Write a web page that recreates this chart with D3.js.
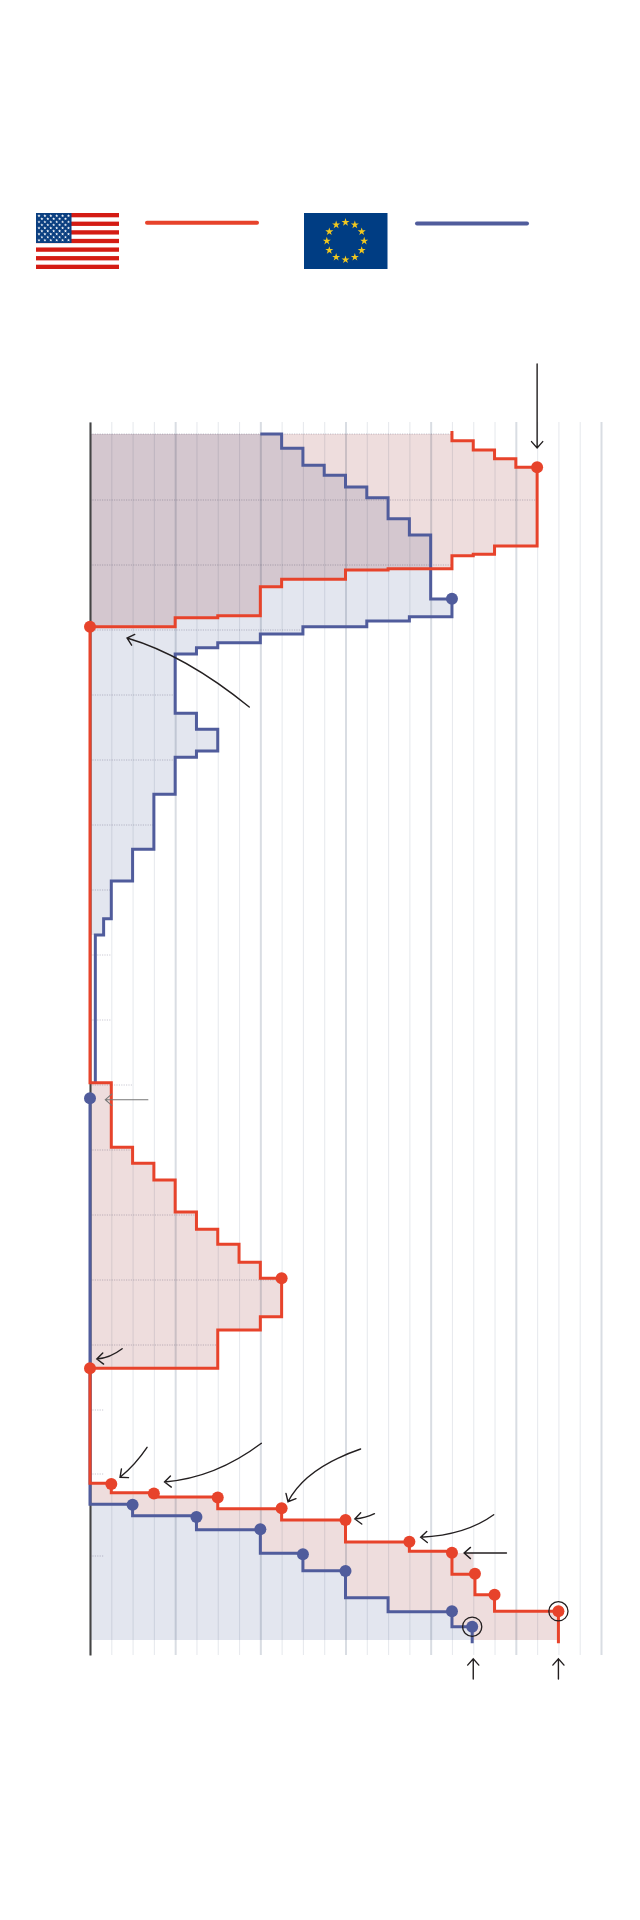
<!DOCTYPE html>
<html lang="en">
<head>
    <meta charset="UTF-8">
    <title>US and EU step chart</title>
    <script src="https://d3js.org/d3.v7.min.js"></script>
    <style>
        body { margin: 0; background: #fff; }
        svg { display: block; }
        .blend { mix-blend-mode: multiply; }
        .grid .domain { display: none; }
        .grid line { stroke: #e8eaee; stroke-width: 1.1; }
        .grid line.major { stroke: #d9dde3; stroke-width: 2; }
        .arrow { fill: none; stroke: #231f20; stroke-width: 1.4; stroke-linecap: round; }
        .arrow.faint { stroke: #777; stroke-width: 1.1; }
    </style>
</head>
<body>
<svg id="chart" width="640" height="1920"></svg>
<script>
    const RED = "#e7432b", BLUE = "#505c9c";
    const RED_FILL = "#eedddd", BLUE_FILL = "#e3e6ef";

    // step lines: each point is [x, y], flat run from it to the next x, then drop to the next y
    const redUpper = [[17, -3], [17, 6.7], [18, 16], [19, 24.7], [20, 33.3], [21, 112], [19, 120.3], [18, 121.7],
        [17, 134.7], [14, 136], [12, 145.3], [9, 152.7], [8, 181.7], [6, 183.7], [4, 192.7], [0, 192.7]];
    const redMiddle = [[0, 648.7], [1, 713.3], [2, 729.3], [3, 746], [4, 778], [5, 795.3], [6, 810.3], [7, 828.3],
        [8, 844.3], [9, 882.7], [8, 896], [6, 934.3], [0, 934.3]];
    const redLower = [[0, 1049.3], [1, 1058.7], [3, 1063], [6, 1074.7], [9, 1086], [12, 1108], [15, 1117.3],
        [17, 1140.3], [18.08, 1160.7], [19, 1177.3], [22, 1209.3]];
    const blueUpper = [[8, 0], [9, 14.3], [10, 31.3], [11, 41.3], [12, 53], [13, 63.7], [14, 84.7], [15, 101],
        [16, 165], [17, 182.7], [15, 187], [13, 192.7], [10, 200], [8, 208.7], [6, 213.7], [5, 220], [4, 279.3],
        [5, 295.3], [6, 317], [5, 323.3], [4, 360.3], [3, 415.3], [2, 447], [1, 484.7], [0.64, 501]];
    const blueTail = [[0.25, 648.7]];
    const blueLower = [[0, 664.3], [0, 1070.3], [2, 1081.7], [5, 1095.7], [8, 1119.3], [10, 1136.7], [12, 1163.7],
        [14, 1177.7], [17, 1192.7], [17.95, 1209.3]];

    const fillBottom = 1206;
    const redNotch = [[17, 1119], [18, 1140.3], [17, 1140.3]];

    const redDots = [[21, 33.3], [0, 192.7], [9, 844.3], [0, 934.3], [1, 1050], [3, 1059.5], [6, 1063.5], [9, 1074.3],
        [12, 1086], [15, 1107.7], [17, 1118.7], [18.08, 1139.7], [19, 1160.7], [22, 1177.3]];
    const blueDots = [[17, 164.7], [0, 664.3], [2, 1070.7], [5, 1083], [8, 1095.3], [10, 1120.3], [12, 1137], [17, 1177.3], [17.95, 1192.7]];
    const ringed = [[17.95, 1192.7], [22, 1177.3]];

    // dotted rows: [y, how far right they run]
    const rows = [[0, 17], [66, 21], [131, 17], [196, 10], [261, 4], [326, 4], [391, 3], [456, 1], [521, 1], [586, 1],
        [651, 2], [716, 2], [781, 5], [846, 9], [911, 6], [976, 0.65], [1040, 0.65], [1122, 0.65]];

    const xMinor = d3.range(0, 25);
    const xMajor = [0, 4, 8, 12, 16, 20, 24];

    // arrows: start, curve control, tip
    const arrows = [
        [21, -70, 21, -20, 21, 14],
        [7.48, 273, 4.47, 221, 1.74, 204],
        [2.72, 665.7, 1.5, 665.7, 0.72, 665.7],
        [1.51, 914.7, 0.94, 924, 0.32, 925],
        [2.68, 1013.3, 2.12, 1031, 1.41, 1043.3],
        [8.05, 1009.3, 5.88, 1044, 3.5, 1048],
        [12.71, 1015, 10.12, 1034, 9.3, 1067.7],
        [13.36, 1079.7, 12.94, 1084, 12.44, 1085],
        [18.96, 1080.7, 17.65, 1101, 15.53, 1103.3],
        [19.56, 1119, 18.5, 1119, 17.57, 1119],
        [18, 1245, 18, 1235, 18, 1224.7],
        [22, 1245, 22, 1235, 22, 1224.7]
    ];
    const faintArrow = 2;

    const svg = d3.select("#chart");
    const x = d3.scaleLinear().domain([0, 24]).range([90, 601]);
    const y = d3.scaleLinear().domain([-12, 1221]).range([422, 1655]);

    const step = d3.line().x(d => x(d[0])).y(d => y(d[1])).curve(d3.curveStepAfter);

    // fills
    const fills = svg.append("g");
    [
        [[0, 0], ...redUpper.slice(1)],
        redMiddle,
        [...redLower.slice(0, -1), [22, fillBottom], [0, fillBottom]],
        redNotch
    ].forEach(pts => fills.append("path").attr("d", step(pts) + "Z").attr("fill", RED_FILL));

    fills.append("path").attr("class", "blend")
        .attr("d", step([[0, 0], ...blueUpper, [0, 501]]) + "Z")
        .attr("fill", BLUE_FILL);
    fills.append("path")
        .attr("d", step([...blueLower.slice(0, -1), [17.95, fillBottom], [0, fillBottom]]) + "Z")
        .attr("fill", BLUE_FILL);

    // vertical grid
    const grid = svg.append("g").attr("class", "grid blend")
        .attr("transform", `translate(0,${y(1221)})`)
        .call(d3.axisBottom(x).tickValues(xMinor).tickSize(-(y(1221) - y(-12))).tickSizeOuter(0).tickFormat(""));
    grid.selectAll(".tick line").classed("major", d => xMajor.includes(d));

    // dotted rows
    svg.append("g").attr("class", "blend").selectAll("line")
        .data(rows)
        .enter().append("line")
        .attr("x1", x(0))
        .attr("x2", d => x(d[1]))
        .attr("y1", d => y(d[0]))
        .attr("y2", d => y(d[0]))
        .attr("stroke", "#c9c8d2")
        .attr("stroke-width", 1)
        .attr("stroke-dasharray", "1.2 1.2");

    // y axis line
    const yAxis = svg.append("g")
        .attr("transform", `translate(${x(0)},0)`)
        .call(d3.axisLeft(y).tickValues([]).tickSizeOuter(0));
    yAxis.select(".domain").attr("stroke", "#444").attr("stroke-width", 2);

    // lines
    svg.append("path")
        .attr("d", step([...blueUpper, ...blueTail]))
        .attr("fill", "none").attr("stroke", BLUE).attr("stroke-width", 3);
    svg.append("path")
        .attr("d", step(blueLower))
        .attr("fill", "none").attr("stroke", BLUE).attr("stroke-width", 3);
    svg.append("path")
        .attr("d", step([...redUpper, ...redMiddle, ...redLower]))
        .attr("fill", "none").attr("stroke", RED).attr("stroke-width", 3);

    // dots
    svg.append("g").selectAll("circle")
        .data(blueDots)
        .enter().append("circle")
        .attr("cx", d => x(d[0])).attr("cy", d => y(d[1])).attr("r", 6).attr("fill", BLUE);
    svg.append("g").selectAll("circle")
        .data(redDots)
        .enter().append("circle")
        .attr("cx", d => x(d[0])).attr("cy", d => y(d[1])).attr("r", 6).attr("fill", RED);
    svg.append("g").selectAll("circle")
        .data(ringed)
        .enter().append("circle")
        .attr("cx", d => x(d[0])).attr("cy", d => y(d[1])).attr("r", 9.6)
        .attr("fill", "none").attr("stroke", "#231f20").attr("stroke-width", 1.3);

    // arrows
    arrows.forEach((a, i) => {
        const [x0, y0, cx, cy, x1, y1] = [x(a[0]), y(a[1]), x(a[2]), y(a[3]), x(a[4]), y(a[5])];
        const angle = Math.atan2(y1 - cy, x1 - cx);
        const head = [angle - 0.72, angle + 0.72].map(t => [x1 - 8.5 * Math.cos(t), y1 - 8.5 * Math.sin(t)]);
        const p = d3.path();
        p.moveTo(x0, y0);
        p.quadraticCurveTo(cx, cy, x1, y1);
        p.moveTo(head[0][0], head[0][1]);
        p.lineTo(x1, y1);
        p.lineTo(head[1][0], head[1][1]);
        svg.append("path").attr("class", i === faintArrow ? "arrow faint" : "arrow").attr("d", p.toString());
    });

    // legend
    const usFlag = svg.append("g").attr("transform", "translate(36,213)");
    usFlag.append("rect").attr("width", 83).attr("height", 56).attr("fill", "#fff");
    d3.range(0, 13, 2).forEach(i => {
        usFlag.append("rect").attr("y", i * 56 / 13).attr("width", 83).attr("height", 56 / 13).attr("fill", "#d41c14");
    });
    usFlag.append("rect").attr("width", 35.5).attr("height", 30).attr("fill", "#0b3f80");
    const star = d3.symbol().type(d3.symbolStar);
    d3.range(9).forEach(row => {
        const count = row % 2 ? 5 : 6;
        d3.range(count).forEach(col => {
            usFlag.append("path").attr("d", star.size(3.2)())
                .attr("transform", `translate(${(row % 2 ? 5.9 : 3) + col * 5.9},${2.8 + row * 3.05})`)
                .attr("fill", "#fff");
        });
    });

    const euFlag = svg.append("g").attr("transform", "translate(304,213)");
    euFlag.append("rect").attr("width", 83.5).attr("height", 56).attr("fill", "#003d83");
    d3.range(12).forEach(i => {
        const t = i * Math.PI / 6;
        euFlag.append("path").attr("d", star.size(20)())
            .attr("transform", `translate(${41.5 + 18.7 * Math.sin(t)},${28 - 18.7 * Math.cos(t)})`)
            .attr("fill", "#f2c81e");
    });

    svg.append("line").attr("x1", 147).attr("x2", 257).attr("y1", 222.7).attr("y2", 222.7)
        .attr("stroke", RED).attr("stroke-width", 4).attr("stroke-linecap", "round");
    svg.append("line").attr("x1", 417).attr("x2", 527).attr("y1", 223.5).attr("y2", 223.5)
        .attr("stroke", BLUE).attr("stroke-width", 4).attr("stroke-linecap", "round");
</script>
</body>
</html>
